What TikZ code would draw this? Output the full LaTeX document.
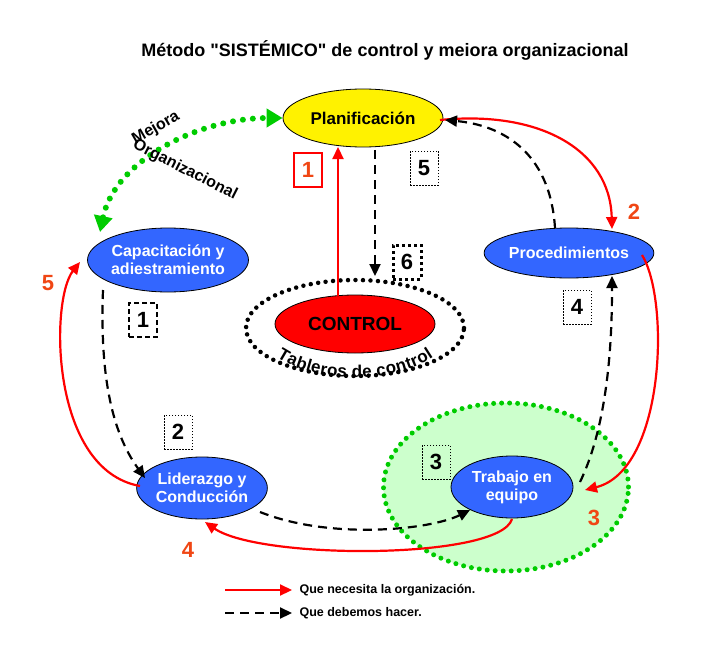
\documentclass[tikz,border=0pt]{standalone}
\usepackage{fontspec}
\setmainfont{Liberation Sans}
\usetikzlibrary{shapes.geometric,arrows.meta,decorations.text}
\definecolor{myblue}{RGB}{51,102,255}
\definecolor{myred}{RGB}{255,0,0}
\definecolor{myorange}{RGB}{240,70,20}
\definecolor{mygreen}{RGB}{0,204,0}
\definecolor{lightg}{RGB}{204,255,204}
\begin{document}
\begin{tikzpicture}[x=1pt,y=-1pt,font=\bfseries,
 ell/.style={ellipse,draw=black,line width=0.8pt,inner sep=0pt,align=center},
 bl/.style={ell,fill=myblue,text=white,font=\bfseries\fontsize{16}{18}\selectfont},
 redar/.style={draw=myred,line width=2.2pt,-{Triangle[length=12pt,width=11pt]}},
 blkdash/.style={draw=black,line width=2.2pt,dash pattern=on 9pt off 6pt,-{Triangle[length=12pt,width=11pt]}},
 num/.style={font=\bfseries\fontsize{22}{24}\selectfont,text=myorange},
 box/.style={draw=black,font=\bfseries\fontsize{22}{24}\selectfont,minimum width=28pt,minimum height=34pt,inner sep=0pt}]
\useasboundingbox (0,0) rectangle (728,650);
\node (title) at (385,50) {\fontsize{18}{20}\selectfont Método \textquotedbl SISTÉMICO\textquotedbl{} de control y meiora organizacional};
% green zone
\node (zone) [ellipse,fill=lightg,draw=mygreen,line width=5pt,dash pattern=on 0pt off 8pt,line cap=round,minimum width=245pt,minimum height=168pt] at (506,487) {};
\node (tab) [ellipse,draw=black,line width=4.5pt,dash pattern=on 0pt off 7.5pt,line cap=round,minimum width=218pt,minimum height=96pt] at (355,328) {};
\node (ctrl) [ell,fill=myred,minimum width=160pt,minimum height=58pt,font=\bfseries\fontsize{19}{21}\selectfont] at (355,324) {CONTROL};
\path[decorate,decoration={text along path,text align=center,raise=-6pt,text={|\bfseries\fontsize{17}{19}\selectfont|Tableros de control}}]
  (262,334) .. controls (292,384) and (418,384) .. (448,334);
\node (plan) [ell,fill=yellow,minimum width=160pt,minimum height=58pt,font=\bfseries\fontsize{17}{19}\selectfont] at (363,118) {Planificación};
\node (cap) [bl,minimum width=160pt,minimum height=64pt] at (168,260) {Capacitación y\\adiestramiento};
\node (proc) [bl,minimum width=158pt,minimum height=50pt] at (569,253) {Procedimientos};
\node (lid) [bl,minimum width=130pt,minimum height=62pt] at (202,488) {Liderazgo y\\Conducción};
\node (trab) [bl,minimum width=122pt,minimum height=62pt] at (512,487) {Trabajo en\\equipo};
% green arrow
\draw[draw=mygreen,line width=6pt,dash pattern=on 0pt off 10pt,line cap=round,{Triangle[length=16pt,width=18pt]}-{Triangle[length=16pt,width=18pt]}]
  (100,232) .. controls (115,160) and (200,118) .. (plan.west);
\node (mej) [rotate=30,font=\bfseries\fontsize{16}{18}\selectfont] at (156,128) {Mejora};
\node (org) [rotate=-27,font=\bfseries\fontsize{16}{18}\selectfont] at (185,170) {Organizacional};
% red arrows
\draw[redar] (338,296) -- (338,147);
\node (n1) [box,draw=myred,line width=2pt,text=myorange] at (308,170) {1};
\draw[redar] (440,120) .. controls (540,110) and (610,150) .. (612,229);
\node (n2) [num] at (634,212) {2};
\draw[redar] (642,255) .. controls (670,300) and (665,470) .. (585,490);
\node (n3) [num] at (594,518) {3};
\draw[redar] (512,519) .. controls (500,560) and (260,560) .. (205,522);
\node (n4) [num] at (188,550) {4};
\draw[redar] (140,486) .. controls (50,470) and (50,300) .. (80,262);
\node (n5) [num] at (48,283) {5};
% dashed arrows
\draw[blkdash] (103,290) .. controls (100,370) and (110,430) .. (145,478);
\node (b1) [box,dash pattern=on 5pt off 3pt,line width=1.8pt] at (143,320) {1};
\node (b2) [box,dash pattern=on 1.5pt off 1.5pt,line width=0.7pt] at (178,432) {2};
\draw[blkdash] (260,512) .. controls (330,540) and (430,530) .. (470,510);
\node (b3) [box,dash pattern=on 1.5pt off 1.5pt,line width=0.7pt] at (436,462) {3};
\draw[blkdash] (580,482) .. controls (610,420) and (612,330) .. (612,276);
\node (b4) [box,dash pattern=on 1.5pt off 1.5pt,line width=0.7pt] at (577,307) {4};
\draw[blkdash] (555,228) .. controls (550,150) and (500,125) .. (445,120);
\node (b5) [box,dash pattern=on 1.5pt off 1.5pt,line width=0.7pt] at (424,168) {5};
\draw[blkdash] (375,150) -- (375,276);
\node (b6) [box,line width=3pt,dash pattern=on 3pt off 3pt] at (407,262) {6};
% legend
\coordinate (l1a) at (225,590); \coordinate (l1b) at (292,590);
\coordinate (l2a) at (225,613); \coordinate (l2b) at (292,613);
\draw[redar] (l1a) -- (l1b);
\draw[blkdash] (l2a) -- (l2b);
\node (t1) [anchor=west,font=\bfseries\fontsize{12.5}{14}\selectfont] at (296,590) {Que necesita la organización.};
\node (t2) [anchor=west,font=\bfseries\fontsize{12.5}{14}\selectfont] at (296,613) {Que debemos hacer.};
\end{tikzpicture}
\end{document}
